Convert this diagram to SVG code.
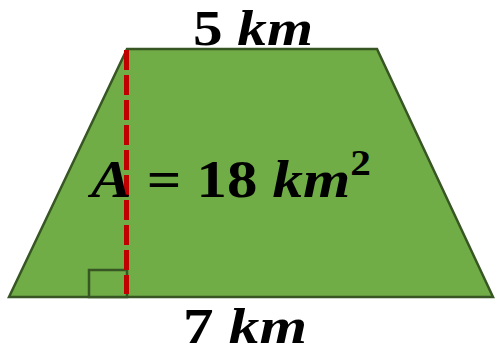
<svg xmlns="http://www.w3.org/2000/svg" width="495" height="354" viewBox="0 0 495 354">
<style>
.shape{fill:#70AD47;stroke:#375623;stroke-width:2.5;stroke-linejoin:miter}
.lbl{font-family:"Liberation Serif","DejaVu Serif",serif;font-weight:bold;fill:#000;text-anchor:middle}
.it{font-style:italic}
.h{fill:none;stroke:#C00000;stroke-width:5;stroke-dasharray:20 5}
</style>
<rect width="495" height="354" fill="#fff"/>
<g id="trapezoid">
<polygon class="shape" points="127,49 377,49 493,297 9,297"/>
</g>
<g id="right-angle">
<rect class="shape" x="89" y="270" width="38" height="27" fill="none"/>
</g>
<g id="connectors">
<line class="h" x1="126.5" y1="50" x2="126.5" y2="294"/>
</g>
<g id="labels">
<text class="lbl" x="253" y="45" font-size="50" textLength="120" lengthAdjust="spacingAndGlyphs">5 <tspan class="it">km</tspan></text>
<text class="lbl" x="231" y="197" font-size="53" textLength="280" lengthAdjust="spacingAndGlyphs"><tspan class="it">A</tspan> = 18 <tspan class="it">km</tspan><tspan font-size="36" dy="-22">2</tspan></text>
<text class="lbl" x="245" y="343" font-size="50" textLength="124" lengthAdjust="spacingAndGlyphs">7 <tspan class="it">km</tspan></text>
</g>
</svg>
